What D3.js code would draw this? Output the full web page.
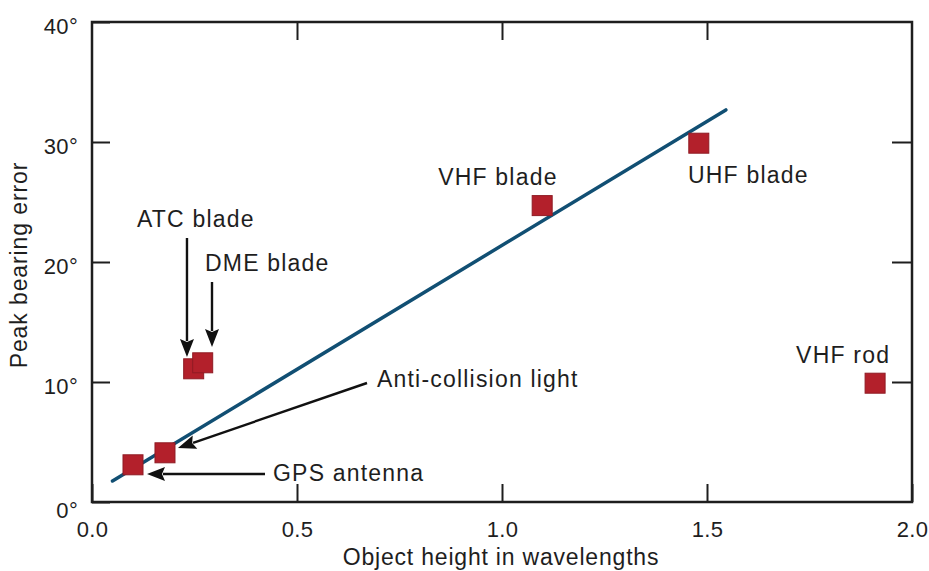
<!DOCTYPE html>
<html>
<head>
<meta charset="utf-8">
<script src="https://cdn.jsdelivr.net/npm/d3@7"></script>
<style>
  html, body { margin: 0; padding: 0; background: #fff; }
  svg { display: block; font-family: "Liberation Sans", Arial, Helvetica, sans-serif; }
</style>
</head>
<body>
<svg id="chart" width="929" height="571"></svg>
<script>
// ---- data ----
const objects = ["GPS antenna", "Anti-collision light", "ATC blade", "DME blade", "VHF blade", "UHF blade", "VHF rod"];
const heights = [0.10, 0.178, 0.248, 0.27, 1.098, 1.48, 1.91];     // object height in wavelengths
const errors  = [3.1, 4.1, 11.1, 11.6, 24.7, 29.9, 9.9];            // peak bearing error (deg)
const fitX = [0.05, 1.546];
const fitY = [1.75, 32.67];
const xTicks = [0, 0.5, 1.0, 1.5, 2.0];
const yTicks = [0, 10, 20, 30, 40];
const xTitle = "Object height in wavelengths";
const yTitle = "Peak bearing error";

// ---- annotation layout (pixel offsets from point centre) ----
const annot = {
  "GPS antenna":          {lx: 140, ly: 16.2, arrow: {tx: 132, ty: 9.2, hx: 14, hy: 9.2}},
  "Anti-collision light": {lx: 212, ly: -65.8, arrow: {tx: 202, ty: -69.8, hx: 13, hy: -4.8}},
  "ATC blade":            {lx: -56.7, ly: -141.8, arrow: {tx: -6.7, ty: -130.8, hx: -6.7, hy: -11.8}},
  "DME blade":            {lx: 2.3, ly: -91.8, arrow: {tx: 9.3, ty: -80.8, hx: 9.3, hy: -15.8}},
  "VHF blade":            {lx: -104, ly: -20.7},
  "UHF blade":            {lx: -10.8, ly: 39.8},
  "VHF rod":              {lx: -79, ly: -20.2}
};

const svg = d3.select("#chart");
const L = 92, R = 912, T = 22, B = 502;
const x = d3.scaleLinear().domain([0, 2]).range([L, R]);
const y = d3.scaleLinear().domain([0, 40]).range([B, T]);
const ink = "#1e1e1e";

// axes
const gL = svg.append("g").attr("transform", `translate(${L},0)`)
  .call(d3.axisLeft(y).tickValues(yTicks).tickFormat(d => d + "°").tickSizeInner(-18).tickSizeOuter(0).tickPadding(14));
gL.selectAll("text").attr("dy", d => d === 0 ? "15px" : "11px");
const gB = svg.append("g").attr("transform", `translate(0,${B})`)
  .call(d3.axisBottom(x).tickValues(xTicks).tickFormat(d3.format(".1f")).tickSizeInner(-18).tickSizeOuter(0).tickPadding(19));
const gR = svg.append("g").attr("transform", `translate(${R},0)`)
  .call(d3.axisRight(y).tickValues(yTicks.slice(1, -1)).tickFormat("").tickSizeInner(-20).tickSizeOuter(0));
const gT = svg.append("g").attr("transform", `translate(0,${T})`)
  .call(d3.axisTop(x).tickValues(xTicks.slice(1, -1)).tickFormat("").tickSizeInner(-18).tickSizeOuter(0));
[gL, gB, gR, gT].forEach(g => {
  g.select(".domain").remove();
  g.selectAll("line").attr("stroke", ink).attr("stroke-width", 2);
  g.selectAll("text").attr("fill", ink).style("font-size", "22px").style("letter-spacing", "0.3px")
    .style("font-family", "'Liberation Sans', Arial, sans-serif");
});

// frame
svg.append("rect").attr("x", L).attr("y", T).attr("width", R - L).attr("height", B - T)
  .attr("fill", "none").attr("stroke", ink).attr("stroke-width", 2.5);

// titles
svg.append("text").attr("x", (L + R) / 2 - 1).attr("y", 565).attr("text-anchor", "middle")
  .attr("fill", ink).style("font-size", "23px").style("letter-spacing", "0.8px").text(xTitle);
svg.append("text").attr("transform", "translate(27,265) rotate(-90)").attr("text-anchor", "middle")
  .attr("fill", ink).style("font-size", "23px").style("letter-spacing", "0.9px").text(yTitle);

// fit line
const pts = objects.map((name, i) => ({name, px: x(heights[i]), py: y(errors[i])}));
svg.append("path")
  .attr("d", d3.line().x(d => x(d[0])).y(d => y(d[1]))(fitX.map((v, i) => [v, fitY[i]])))
  .attr("stroke", "#114f73").attr("stroke-width", 3.5).attr("fill", "none").attr("stroke-linecap", "round");

// squares
const S = 20;
svg.append("g").selectAll("rect").data(pts).join("rect")
  .attr("x", d => d.px - S / 2).attr("y", d => d.py - S / 2).attr("width", S).attr("height", S)
  .attr("fill", "#b3202b").attr("stroke", "#8f1b24").attr("stroke-width", 1);

// arrows
const ag = svg.append("g");
pts.forEach(d => {
  const a = annot[d.name].arrow;
  if (!a) return;
  const tx = d.px + a.tx, ty = d.py + a.ty, hx = d.px + a.hx, hy = d.py + a.hy;
  const ang = Math.atan2(hy - ty, hx - tx);
  const hl = 18, hw = 7;
  const bx = hx - hl * Math.cos(ang), by = hy - hl * Math.sin(ang);
  ag.append("line").attr("x1", tx).attr("y1", ty).attr("x2", bx + 2 * Math.cos(ang)).attr("y2", by + 2 * Math.sin(ang))
    .attr("stroke", "#111").attr("stroke-width", 2.4);
  const nx = -Math.sin(ang), ny = Math.cos(ang);
  ag.append("path")
    .attr("d", `M${hx},${hy}L${bx + nx * hw},${by + ny * hw}L${bx + 3 * Math.cos(ang)},${by + 3 * Math.sin(ang)}L${bx - nx * hw},${by - ny * hw}Z`)
    .attr("fill", "#111");
});

// labels
svg.append("g").selectAll("text").data(pts).join("text")
  .attr("x", d => d.px + annot[d.name].lx).attr("y", d => d.py + annot[d.name].ly)
  .attr("fill", ink).style("font-size", "23px").style("letter-spacing", "1.2px")
  .text(d => d.name);
</script>
</body>
</html>
